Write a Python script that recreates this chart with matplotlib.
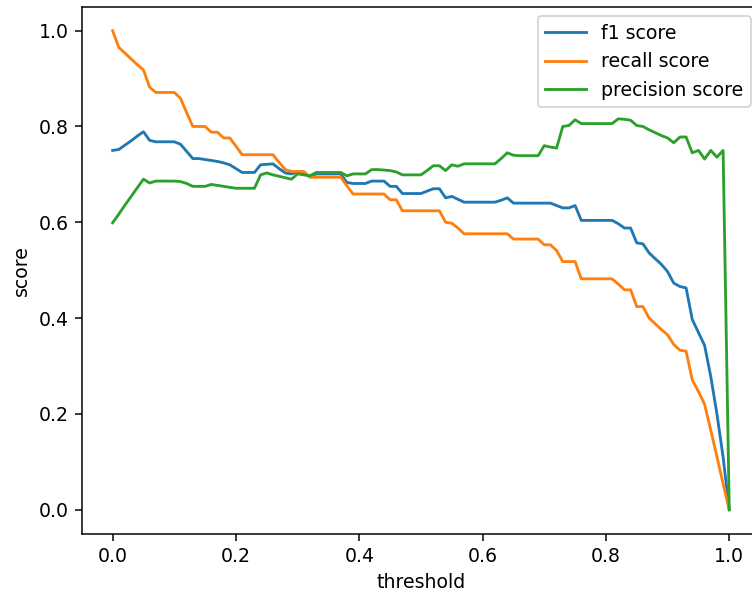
import numpy as np
import matplotlib
matplotlib.use("Agg")
import matplotlib.pyplot as plt

thresholds = [round(i * 0.01, 2) for i in range(101)]

f1_score = [
    0.750, 0.752, 0.761, 0.770, 0.780, 0.789, 0.771, 0.768, 0.768, 0.768,
    0.768, 0.763, 0.748, 0.733, 0.733, 0.731, 0.729, 0.727, 0.724, 0.720,
    0.712, 0.704, 0.704, 0.704, 0.720, 0.721, 0.722, 0.712, 0.703, 0.701,
    0.706, 0.701, 0.696, 0.701, 0.701, 0.701, 0.701, 0.701, 0.683, 0.681,
    0.681, 0.681, 0.686, 0.686, 0.686, 0.675, 0.675, 0.660, 0.660, 0.660,
    0.660, 0.665, 0.670, 0.670, 0.651, 0.654, 0.648, 0.642, 0.642, 0.642,
    0.642, 0.642, 0.642, 0.646, 0.651, 0.640, 0.640, 0.640, 0.640, 0.640,
    0.640, 0.640, 0.635, 0.630, 0.630, 0.635, 0.604, 0.604, 0.604, 0.604,
    0.604, 0.604, 0.597, 0.588, 0.588, 0.557, 0.555, 0.536, 0.524, 0.512,
    0.497, 0.473, 0.466, 0.463, 0.397, 0.370, 0.343, 0.278, 0.200, 0.110,
    0.000,
]

recall_score = [
    1.000, 0.965, 0.953, 0.941, 0.929, 0.918, 0.882, 0.871, 0.871, 0.871,
    0.871, 0.859, 0.829, 0.800, 0.800, 0.800, 0.788, 0.788, 0.776, 0.776,
    0.759, 0.741, 0.741, 0.741, 0.741, 0.741, 0.741, 0.725, 0.710, 0.706,
    0.706, 0.706, 0.694, 0.694, 0.694, 0.694, 0.694, 0.694, 0.676, 0.659,
    0.659, 0.659, 0.659, 0.659, 0.659, 0.647, 0.647, 0.624, 0.624, 0.624,
    0.624, 0.624, 0.624, 0.624, 0.600, 0.598, 0.588, 0.576, 0.576, 0.576,
    0.576, 0.576, 0.576, 0.576, 0.576, 0.565, 0.565, 0.565, 0.565, 0.565,
    0.553, 0.553, 0.541, 0.518, 0.518, 0.518, 0.482, 0.482, 0.482, 0.482,
    0.482, 0.482, 0.471, 0.459, 0.459, 0.424, 0.424, 0.400, 0.388, 0.376,
    0.365, 0.345, 0.333, 0.331, 0.271, 0.247, 0.220, 0.166, 0.111, 0.054,
    0.000,
]

precision_score = [
    0.599, 0.617, 0.636, 0.654, 0.672, 0.690, 0.682, 0.686, 0.686, 0.686,
    0.686, 0.685, 0.681, 0.675, 0.675, 0.675, 0.679, 0.677, 0.675, 0.673,
    0.671, 0.671, 0.671, 0.671, 0.699, 0.703, 0.699, 0.696, 0.693, 0.690,
    0.701, 0.699, 0.697, 0.704, 0.704, 0.704, 0.704, 0.704, 0.697, 0.701,
    0.701, 0.701, 0.710, 0.710, 0.709, 0.708, 0.705, 0.699, 0.699, 0.699,
    0.699, 0.708, 0.718, 0.718, 0.708, 0.720, 0.717, 0.722, 0.722, 0.722,
    0.722, 0.722, 0.722, 0.733, 0.745, 0.740, 0.739, 0.739, 0.739, 0.739,
    0.760, 0.757, 0.755, 0.800, 0.802, 0.814, 0.806, 0.806, 0.806, 0.806,
    0.806, 0.806, 0.816, 0.815, 0.813, 0.802, 0.800, 0.793, 0.787, 0.781,
    0.776, 0.766, 0.778, 0.778, 0.745, 0.750, 0.732, 0.750, 0.736, 0.750,
    0.000,
]

DPI = 136
W, H = 752, 592
fig = plt.figure(figsize=(W / DPI, H / DPI), dpi=DPI)
ax = fig.add_axes([81.8 / W, (H - 533.7) / H, 678.3 / W, 527.0 / H])

ax.plot(thresholds, f1_score, label="f1 score")
ax.plot(thresholds, recall_score, label="recall score")
ax.plot(thresholds, precision_score, label="precision score")
ax.set_xlabel("threshold")
ax.set_ylabel("score")
ax.legend(loc="upper right", handlelength=2.15, handletextpad=0.8)

fig.savefig("out.png", dpi=DPI)
